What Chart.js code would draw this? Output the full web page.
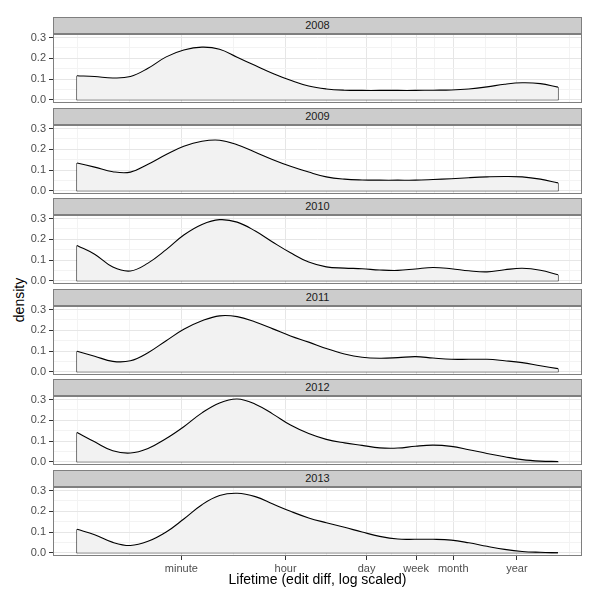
<!DOCTYPE html>
<html>
<head>
<meta charset="utf-8">
<script src="https://cdn.jsdelivr.net/npm/chart.js@4.4.0/dist/chart.umd.min.js"></script>
<style>
  body { margin: 0; background: #fff; font-family: "Liberation Sans", Arial, sans-serif; }
  #wrap { position: relative; width: 600px; height: 600px; overflow: hidden; background: #fff; }
  #wrap canvas { position: absolute; left: 0; }
  .strip { position: absolute; left: 53px; width: 529px; height: 17px; box-sizing: border-box;
           background: #cccccc; border: 1px solid #7f7f7f; font-size: 11px; color: #1a1a1a;
           text-align: center; line-height: 15px; }
  #ylab { position: absolute; left: 19px; top: 300px; font-size: 14px; color: #000;
          transform: translate(-50%, -50%) rotate(-90deg); white-space: nowrap; }
</style>
</head>
<body>
<div id="wrap"><div id="ylab">density</div></div>
<script>
// facets
const years = ['2008', '2009', '2010', '2011', '2012', '2013'];

// lifetime in log10(seconds)
const xs = [0, 0.30, 0.61, 0.91, 1.21, 1.52, 1.82, 2.13, 2.43, 2.73, 3.04, 3.34, 3.64, 3.95,
            4.25, 4.56, 4.86, 5.16, 5.47, 5.77, 6.07, 6.38, 6.68, 6.99, 7.29, 7.59, 7.90, 8.20];

const d2008 = [0.116, 0.112, 0.105, 0.112, 0.152, 0.207, 0.240, 0.254, 0.244, 0.205, 0.165, 0.127, 0.094, 0.066,
               0.052, 0.046, 0.045, 0.045, 0.045, 0.045, 0.046, 0.047, 0.052, 0.062, 0.075, 0.082, 0.078, 0.061];
const d2009 = [0.134, 0.114, 0.092, 0.090, 0.128, 0.175, 0.215, 0.239, 0.244, 0.222, 0.186, 0.150, 0.118, 0.090,
               0.067, 0.056, 0.052, 0.051, 0.051, 0.051, 0.054, 0.058, 0.063, 0.067, 0.069, 0.067, 0.056, 0.038];
const d2010 = [0.170, 0.128, 0.066, 0.047, 0.085, 0.150, 0.221, 0.272, 0.295, 0.283, 0.240, 0.186, 0.135, 0.090,
               0.067, 0.061, 0.058, 0.052, 0.050, 0.057, 0.064, 0.058, 0.048, 0.043, 0.053, 0.060, 0.051, 0.029];
const d2011 = [0.099, 0.075, 0.050, 0.053, 0.092, 0.150, 0.205, 0.246, 0.270, 0.266, 0.240, 0.207, 0.173, 0.143,
               0.112, 0.086, 0.070, 0.065, 0.068, 0.073, 0.066, 0.060, 0.060, 0.060, 0.053, 0.044, 0.029, 0.015];
const d2012 = [0.141, 0.096, 0.053, 0.042, 0.064, 0.112, 0.169, 0.236, 0.284, 0.303, 0.278, 0.230, 0.177, 0.136,
               0.108, 0.091, 0.079, 0.067, 0.066, 0.075, 0.080, 0.074, 0.058, 0.040, 0.024, 0.010, 0.003, 0.001];
const d2013 = [0.113, 0.087, 0.050, 0.035, 0.055, 0.100, 0.163, 0.232, 0.276, 0.287, 0.271, 0.235, 0.200, 0.168,
               0.145, 0.123, 0.100, 0.079, 0.066, 0.065, 0.065, 0.061, 0.048, 0.031, 0.016, 0.006, 0.002, 0.000];
const densities = [d2008, d2009, d2010, d2011, d2012, d2013];

// x axis breaks (log10 seconds)
const xBreaks = [1.778, 3.556, 4.937, 5.782, 6.414, 7.499];
const xLabels = ['minute', 'hour', 'day', 'week', 'month', 'year'];
const xMinor = [0, 0.889, 2.667, 4.247, 5.36, 6.098, 6.957, 8.4];
const yBreaks = [0, 0.1, 0.2, 0.3];
const yMinor = [0.05, 0.15, 0.25];

const panelTop = [34, 125, 215, 306, 396, 487];

Chart.defaults.font.family = '"Liberation Sans", Arial, sans-serif';

const isMajorX = v => xBreaks.some(b => Math.abs(b - v) < 1e-6);
const isMajorY = v => yBreaks.some(b => Math.abs(b - v) < 1e-6);

const panelBorder = {
    id: 'panelBorder',
    afterDraw(chart) {
        const {ctx, chartArea: a} = chart;
        ctx.save();
        ctx.strokeStyle = '#7f7f7f';
        ctx.lineWidth = 1;
        ctx.strokeRect(a.left + 0.5, a.top + 0.5, a.right - a.left - 1, a.bottom - a.top - 1);
        ctx.restore();
    }
};

const wrap = document.getElementById('wrap');

years.forEach((yr, i) => {
    const last = i === years.length - 1;
    const dens = densities[i];
    const n = xs.length;

    const strip = document.createElement('div');
    strip.className = 'strip';
    strip.style.top = (panelTop[i] - 17) + 'px';
    strip.textContent = yr;
    wrap.appendChild(strip);

    const h = last ? 123 : 89;
    const cv = document.createElement('canvas');
    cv.width = 600; cv.height = h;
    cv.style.width = '600px'; cv.style.height = h + 'px';
    cv.style.top = (panelTop[i] - 10) + 'px';
    wrap.appendChild(cv);

    new Chart(cv, {
        type: 'line',
        data: {
            datasets: [{
                data: xs.map((x, k) => ({x: x, y: dens[k]})),
                borderColor: '#000',
                borderWidth: 1.1,
                backgroundColor: '#f2f2f2',
                fill: 'origin',
                tension: 0.4,
                pointRadius: 0
            }, {
                // sides and base of the density polygon
                data: [{x: xs[0], y: dens[0]}, {x: xs[0], y: 0}, {x: xs[n - 1], y: 0}, {x: xs[n - 1], y: dens[n - 1]}],
                borderColor: '#000',
                borderWidth: 1.1,
                fill: false,
                tension: 0,
                pointRadius: 0
            }]
        },
        options: {
            responsive: false,
            animation: false,
            devicePixelRatio: 1,
            layout: {padding: {left: 0, right: 18, top: 10, bottom: last ? 0 : 10}},
            plugins: {legend: {display: false}, tooltip: {enabled: false}},
            scales: {
                x: {
                    type: 'linear',
                    min: -0.41,
                    max: 8.61,
                    afterBuildTicks: s => {
                        s.ticks = xBreaks.concat(xMinor).sort((a, b) => a - b).map(v => ({value: v}));
                    },
                    afterFit: s => { s.height = last ? 44 : 0; },
                    border: {display: false},
                    grid: {
                        color: c => (c.tick && isMajorX(c.tick.value)) ? '#e6e6e6' : '#f3f3f3',
                        drawTicks: last,
                        tickLength: 4,
                        tickColor: c => (c.tick && isMajorX(c.tick.value)) ? '#333' : 'rgba(0,0,0,0)'
                    },
                    ticks: {
                        display: last,
                        autoSkip: false,
                        maxRotation: 0,
                        padding: 2,
                        color: '#4d4d4d',
                        font: {size: 11},
                        callback: v => {
                            const k = xBreaks.findIndex(b => Math.abs(b - v) < 1e-6);
                            return k >= 0 ? xLabels[k] : '';
                        }
                    },
                    title: {
                        display: last,
                        text: 'Lifetime (edit diff, log scaled)',
                        color: '#000',
                        font: {size: 14},
                        padding: {top: 0, bottom: 11}
                    }
                },
                y: {
                    min: -0.0158,
                    max: 0.3175,
                    afterBuildTicks: s => {
                        s.ticks = yBreaks.concat(yMinor).sort((a, b) => a - b).map(v => ({value: v}));
                    },
                    afterFit: s => { s.width = 53; },
                    border: {display: false},
                    grid: {
                        color: c => (c.tick && isMajorY(c.tick.value)) ? '#e6e6e6' : '#f3f3f3',
                        tickLength: 4,
                        tickColor: c => (c.tick && isMajorY(c.tick.value)) ? '#333' : 'rgba(0,0,0,0)'
                    },
                    ticks: {
                        autoSkip: false,
                        padding: 3,
                        color: '#4d4d4d',
                        font: {size: 11},
                        callback: v => isMajorY(v) ? v.toFixed(1) : ''
                    }
                }
            }
        },
        plugins: [panelBorder]
    });
});
</script>
</body>
</html>
